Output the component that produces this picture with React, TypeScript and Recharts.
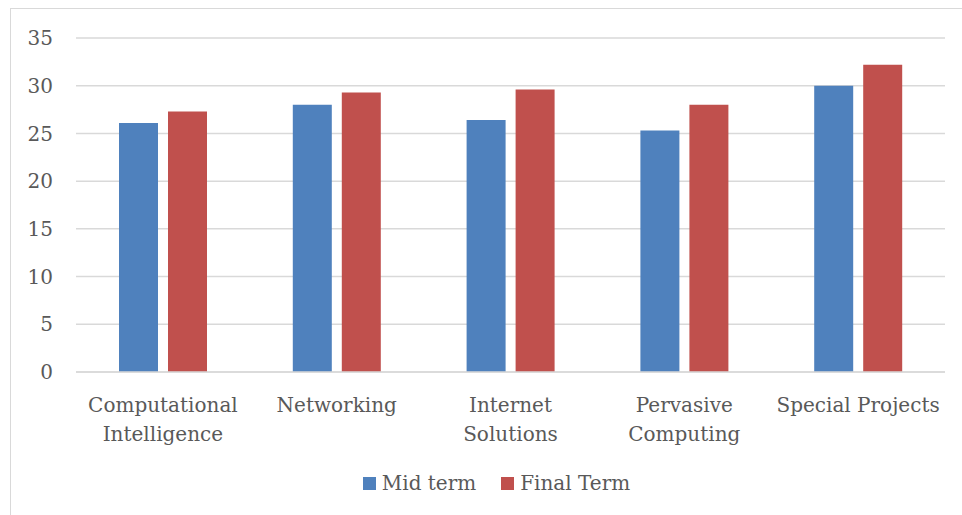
import { BarChart, Bar, XAxis, YAxis, CartesianGrid } from "recharts";

const subjects = [
  "Computational Intelligence",
  "Networking",
  "Internet Solutions",
  "Pervasive Computing",
  "Special Projects",
];
const subjectLines: Record<string, string[]> = {
  "Computational Intelligence": ["Computational", "Intelligence"],
  Networking: ["Networking"],
  "Internet Solutions": ["Internet", "Solutions"],
  "Pervasive Computing": ["Pervasive", "Computing"],
  "Special Projects": ["Special Projects"],
};
const midTerm = [26.1, 28, 26.4, 25.3, 30];
const finalTerm = [27.3, 29.3, 29.6, 28, 32.2];
const yTicks = [0, 5, 10, 15, 20, 25, 30, 35];

const FONT = "'DejaVu Serif', serif";
const TEXT = "#595959";
const BLUE = "#4F81BD";
const RED = "#C0504D";

const chartData = subjects.map((name, i) => ({
  name,
  mid: midTerm[i],
  final: finalTerm[i],
}));

function CategoryTick(props: any) {
  const { x, y, payload } = props;
  const lines = subjectLines[payload.value] || [payload.value];
  return (
    <text x={x} y={y} textAnchor="middle" fill={TEXT} fontSize={20} fontFamily={FONT}>
      {lines.map((l, i) => (
        <tspan key={i} x={x} dy={i === 0 ? 32 : 29}>
          {l}
        </tspan>
      ))}
    </text>
  );
}

export default function App() {
  return (
    <div style={{ position: "absolute", left: 0, top: 0, width: 962, height: 515, background: "#fff", overflow: "hidden" }}>
      <div
        style={{
          position: "absolute",
          left: 10,
          top: 8,
          width: 980,
          height: 540,
          border: "1px solid #D9D9D9",
        }}
      />
      <BarChart
        width={962}
        height={515}
        data={chartData}
        margin={{ top: 38, right: 17, bottom: 0, left: 0 }}
        barGap={10}
        barSize={39}
      >
        <CartesianGrid vertical={false} stroke="#D9D9D9" strokeWidth={1.5} />
        <XAxis
          dataKey="name"
          height={143}
          axisLine={{ stroke: "#D9D9D9", strokeWidth: 1.5 }}
          tickLine={false}
          interval={0}
          tick={<CategoryTick />}
        />
        <YAxis
          width={76}
          domain={[0, 35]}
          ticks={yTicks}
          axisLine={false}
          tickLine={false}
          tickSize={0}
          tickMargin={23}
          tick={{ fill: TEXT, fontSize: 20, fontFamily: FONT }}
        />
        <Bar dataKey="mid" name="Mid term" fill={BLUE} isAnimationActive={false} />
        <Bar dataKey="final" name="Final Term" fill={RED} isAnimationActive={false} />
      </BarChart>
      <div
        style={{
          position: "absolute",
          left: 0,
          width: 962,
          top: 471,
          display: "flex",
          justifyContent: "center",
          paddingLeft: 31,
          boxSizing: "border-box",
          fontFamily: FONT,
          fontSize: 20,
          color: TEXT,
          gap: 25,
        }}
      >
        {[
          ["Mid term", BLUE],
          ["Final Term", RED],
        ].map(([label, c]) => (
          <div key={label} style={{ display: "flex", alignItems: "center" }}>
            <span style={{ width: 13, height: 13, background: c, marginRight: 6, display: "inline-block" }} />
            <span>{label}</span>
          </div>
        ))}
      </div>
    </div>
  );
}
